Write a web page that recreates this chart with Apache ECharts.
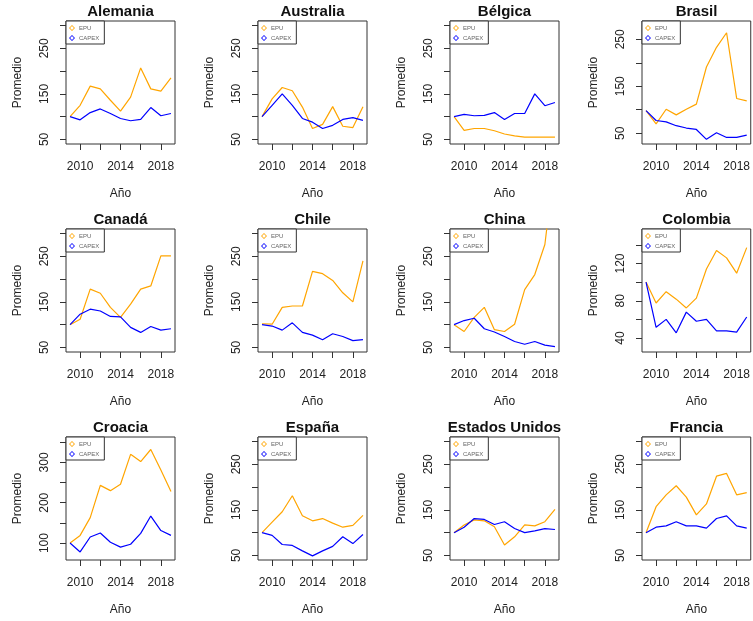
<!DOCTYPE html>
<html>
<head>
<meta charset="utf-8">
<script src="https://cdn.jsdelivr.net/npm/echarts@6/dist/echarts.min.js"></script>
<style>
  html, body { margin: 0; padding: 0; background: #fff; }
  #chart { width: 753px; height: 621px; }
</style>
</head>
<body>
<div id="chart"></div>
<script>
// Años observados
const anios = [2009, 2010, 2011, 2012, 2013, 2014, 2015, 2016, 2017, 2018, 2019];

// Países, en orden de panel
const paises = ['Alemania', 'Australia', 'Bélgica', 'Brasil',
                'Canadá', 'Chile', 'China', 'Colombia',
                'Croacia', 'España', 'Estados Unidos', 'Francia'];

// Índice EPU (promedio anual, base 2009 = 100)
const epuAlemania   = [100, 125, 167, 161, 136, 112, 143, 207, 161, 156, 185];
const epuAustralia  = [100, 139, 164, 157, 121, 74, 83, 122, 79, 76, 122];
const epuBelgica    = [100, 70, 74, 74, 69, 62, 58, 55, 55, 55, 55];
const epuBrasil     = [98, 70, 101, 89, 101, 112, 191, 233, 264, 124, 119];
const epuCanada     = [100, 112, 178, 169, 138, 116, 145, 178, 185, 251, 251];
const epuChile      = [102, 101, 138, 141, 141, 217, 212, 197, 170, 150, 240];
const epuChina      = [100, 85, 116, 138, 89, 85, 101, 177, 210, 276, 460];
const epuColombia   = [100, 77.6, 89.7, 81.7, 72.3, 82.8, 114, 134, 126, 109.6, 137];
const epuCroacia    = [100, 119, 163, 243, 230, 246, 320, 302, 332, 281, 228];
const epuEspana     = [100, 123, 146, 181, 137, 126, 131, 121, 112, 116, 138];
const epuEEUU       = [100, 117, 128, 126, 113, 73, 91, 117, 115, 124, 151];
const epuFrancia    = [100, 157, 183, 203, 178, 139, 163, 224, 230, 183, 188];

// Índice CAPEX (promedio anual, base 2009 = 100)
const capexAlemania  = [100, 93, 109, 117, 107, 96, 91, 94, 120, 102, 107];
const capexAustralia = [100, 125, 150, 125, 96, 88, 74, 81, 94, 98, 92];
const capexBelgica   = [100, 105, 102, 103, 109, 94, 107, 107, 150, 124, 131];
const capexBrasil    = [98, 77, 74, 66, 61, 58, 37, 51, 41, 41, 46];
const capexCanada    = [100, 123, 134, 130, 118, 117, 94, 83, 96, 88, 91];
const capexChile     = [100, 97, 88, 104, 83, 77, 67, 80, 74, 65, 67];
const capexChina     = [100, 109, 114, 91, 84, 74, 63, 57, 63, 55, 52];
const capexColombia  = [100, 51.5, 60, 45.6, 67.8, 58, 60, 47.7, 47.7, 46.3, 62.6];
const capexCroacia   = [100, 78, 115, 125, 102, 90, 97, 124, 167, 131, 119];
const capexEspana    = [100, 94, 74, 72, 60, 49, 60, 70, 91, 76, 96];
const capexEEUU      = [100, 112, 131, 129, 118, 124, 109, 100, 104, 109, 107];
const capexFrancia   = [100, 112, 115, 124, 115, 115, 110, 131, 137, 115, 110];

// Marcas y etiquetas de los ejes
const xTicks = [2010, 2012, 2014, 2016, 2018];
const xEtiquetas = [2010, 2014, 2018];
const yTicksBase = [50, 100, 150, 200, 250, 300];
const yEtiquetasBase = [50, 150, 250];
const yTicksBrasil = [50, 100, 150, 200, 250];
const yTicksColombia = [40, 60, 80, 100, 120, 140];
const yEtiquetasColombia = [40, 80, 120];
const yTicksCroacia = [100, 150, 200, 250, 300, 350];
const yEtiquetasCroacia = [100, 200, 300];

const seriesEPU = [epuAlemania, epuAustralia, epuBelgica, epuBrasil, epuCanada, epuChile,
                   epuChina, epuColombia, epuCroacia, epuEspana, epuEEUU, epuFrancia];
const seriesCAPEX = [capexAlemania, capexAustralia, capexBelgica, capexBrasil, capexCanada, capexChile,
                     capexChina, capexColombia, capexCroacia, capexEspana, capexEEUU, capexFrancia];

// Escala vertical de cada panel: [mín, máx, marcas, etiquetas]
const escalaBase = [40, 310, yTicksBase, yEtiquetasBase];
const escalas = [
  escalaBase, escalaBase, escalaBase, [27, 289, yTicksBrasil, yEtiquetasBase],
  escalaBase, escalaBase, escalaBase, [25, 157, yTicksColombia, yEtiquetasColombia],
  [58, 363, yTicksCroacia, yEtiquetasCroacia], escalaBase, escalaBase, escalaBase
];

const FUENTE = "'Liberation Sans', Arial, Helvetica, sans-serif";
const COLOR_EPU = '#FFA500';
const COLOR_CAPEX = '#0000FF';
const colLeft = [66, 258, 450, 642];
const rowTop = [21, 229, 437];
const ANCHO = 109, ALTO = 123;
// Rombo hueco de trazo fino para la leyenda
const ROMBO_HUECO = 'path://M5 0L10 5L5 10L0 5ZM5 1.8L1.8 5L5 8.2L8.2 5Z';

const grid = [], xAxis = [], yAxis = [], series = [], title = [], legend = [];

paises.forEach((pais, i) => {
  const left = colLeft[i % 4];
  const top = rowTop[Math.floor(i / 4)];
  const [yMin, yMax, yTicks, yLabels] = escalas[i];

  grid.push({
    left: left, top: top, width: ANCHO, height: ALTO,
    show: true, borderColor: '#333', borderWidth: 1, backgroundColor: 'transparent'
  });

  xAxis.push({
    type: 'value', gridIndex: i, min: 2008.6, max: 2019.4,
    name: 'Año', nameLocation: 'middle', nameGap: 44,
    nameTextStyle: { fontFamily: FUENTE, fontSize: 12, color: '#222' },
    axisLine: { show: false },
    axisTick: { show: true, length: 6, lineStyle: { color: '#333' }, customValues: xTicks },
    axisLabel: { fontFamily: FUENTE, fontSize: 12, color: '#222', margin: 17, customValues: xEtiquetas,
                 formatter: v => String(v) },
    splitLine: { show: false }
  });

  yAxis.push({
    type: 'value', gridIndex: i, min: yMin, max: yMax,
    name: 'Promedio', nameLocation: 'middle', nameGap: 42,
    nameTextStyle: { fontFamily: FUENTE, fontSize: 12, color: '#222' },
    axisLine: { show: false },
    axisTick: { show: true, length: 6, lineStyle: { color: '#333' }, customValues: yTicks },
    axisLabel: { fontFamily: FUENTE, fontSize: 12, color: '#222', margin: 15, rotate: 90,
                 customValues: yLabels },
    splitLine: { show: false }
  });

  series.push({
    name: 'EPU', type: 'line', xAxisIndex: i, yAxisIndex: i,
    data: anios.map((a, k) => [a, seriesEPU[i][k]]),
    showSymbol: false, symbol: 'emptyDiamond', clip: true,
    lineStyle: { color: COLOR_EPU, width: 1.2 }, itemStyle: { color: COLOR_EPU },
    silent: true
  });
  series.push({
    name: 'CAPEX', type: 'line', xAxisIndex: i, yAxisIndex: i,
    data: anios.map((a, k) => [a, seriesCAPEX[i][k]]),
    showSymbol: false, symbol: 'emptyDiamond', clip: true,
    lineStyle: { color: COLOR_CAPEX, width: 1.2 }, itemStyle: { color: COLOR_CAPEX },
    silent: true
  });

  title.push({
    text: pais, left: left + ANCHO / 2, top: top - 17, textAlign: 'center', padding: 0,
    textStyle: { fontFamily: FUENTE, fontSize: 15, fontWeight: 'bold', color: '#111' }
  });

  legend.push({
    left: left, top: top, orient: 'vertical',
    data: [{ name: 'EPU', icon: ROMBO_HUECO }, { name: 'CAPEX', icon: ROMBO_HUECO }],
    selectedMode: false, borderColor: '#333', borderWidth: 1, backgroundColor: '#fff',
    padding: [4, 5, 3, 3], itemWidth: 6, itemHeight: 6, itemGap: 4,
    itemStyle: { borderWidth: 0 },
    textStyle: { fontFamily: FUENTE, fontSize: 6, color: '#666', padding: [0, 0, 0, -1] },
    z: 10
  });
});

const chart = echarts.init(document.getElementById('chart'), null, { renderer: 'canvas' });
chart.setOption({
  animation: false,
  backgroundColor: '#fff',
  title, legend, grid, xAxis, yAxis, series
});
</script>
</body>
</html>
